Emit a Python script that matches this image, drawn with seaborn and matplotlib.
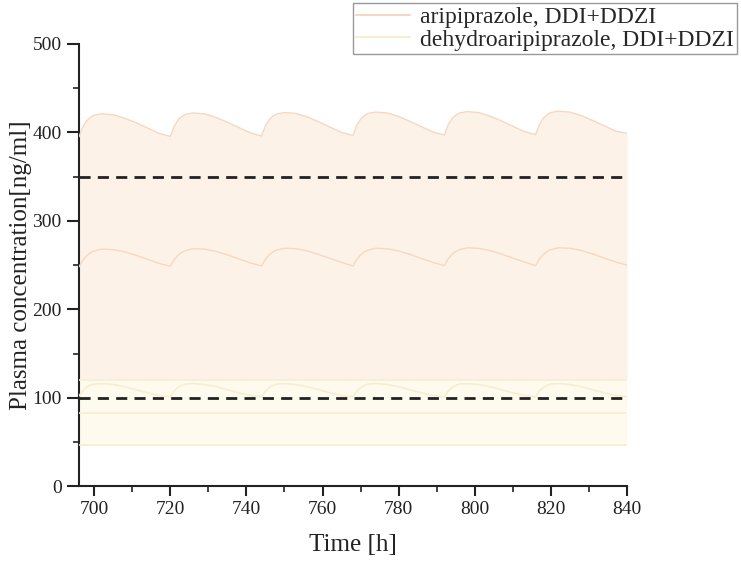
import numpy as np
import pandas as pd
import seaborn as sns
import matplotlib.pyplot as plt
from matplotlib.lines import Line2D
from matplotlib.ticker import MultipleLocator

# Time grid [h] (doses every 24 h, starting at 696 h)
time_h = [
    696, 697, 698, 699, 700, 702, 705, 708, 711, 714, 717,
    720, 721, 722, 723, 724, 726, 729, 732, 735, 738, 741,
    744, 745, 746, 747, 748, 750, 753, 756, 759, 762, 765,
    768, 769, 770, 771, 772, 774, 777, 780, 783, 786, 789,
    792, 793, 794, 795, 796, 798, 801, 804, 807, 810, 813,
    816, 817, 818, 819, 820, 822, 825, 828, 831, 834, 837,
    840,
]

# aripiprazole, upper bound of the band
ari_upper = [
    395, 406, 413, 417, 419.5, 421, 420, 416, 411, 405, 399,
    395.5, 407, 414, 418, 420.5, 422, 421, 417, 411.5, 405.5, 399.5,
    396, 407.5, 414.5, 418.5, 421, 422.5, 421.5, 417.5, 412, 406, 400,
    396.5, 408, 415, 419, 421.5, 423, 422, 418, 412.5, 406.5, 400.5,
    397, 408.5, 415.5, 419.5, 422, 423.5, 422.5, 418.5, 413, 407, 401,
    397.5, 409, 416, 420, 422.5, 424, 423, 419, 413.5, 407.5, 401.5,
    399,
]

# aripiprazole, median
ari_median = [
    248, 255.5, 260.5, 264, 266, 268, 267.5, 265, 261, 256.5, 252,
    248.5, 256, 261, 264.5, 266.5, 268.5, 268, 265.5, 261.5, 257, 252.5,
    249, 256.5, 261.5, 265, 267, 269, 268.5, 266, 262, 257.5, 253,
    249, 256.5, 261.5, 265, 267, 269, 268.5, 266, 262, 257.5, 253,
    249.5, 257, 262, 265.5, 267.5, 269.5, 269, 266.5, 262.5, 258, 253.5,
    249.5, 257, 262, 265.5, 267.5, 269.5, 269, 266.5, 262.5, 258, 253.5,
    250,
]

# dehydroaripiprazole, wavy line inside its band
dehy_wave = [
    102, 108, 112, 114.5, 115.5, 116, 115, 112.5, 109, 105.5, 102.5,
    101, 107.5, 111.5, 114, 115.5, 116, 115, 112.5, 109, 105.5, 102.5,
    101, 107.5, 111.5, 114, 115.5, 116, 115, 112.5, 109, 105.5, 102.5,
    101, 107.5, 111.5, 114, 115.5, 116, 115, 112.5, 109, 105.5, 102.5,
    101, 107.5, 111.5, 114, 115.5, 116, 115, 112.5, 109, 105.5, 102.5,
    101, 107.5, 111.5, 114, 115.5, 116, 115, 112.5, 109, 105.5, 102.5,
    101,
]

# flat levels
ari_lower = 120
dehy_upper = 120
dehy_median = 83
dehy_lower = 46
flat_t = [696, 840]

# therapeutic range limits
ref_levels = [350, 100]

labels = ['aripiprazole, DDI+DDZI', 'dehydroaripiprazole, DDI+DDZI']

ari_fill = '#fdf2e7'
ari_line = '#f5d8c2'
dehy_fill = '#fefbee'
dehy_line = '#f6eed2'

df = pd.DataFrame({'t': time_h, 'upper': ari_upper,
                   'median': ari_median, 'wave': dehy_wave})

sns.set_style('ticks')
plt.rcParams['font.family'] = ['Liberation Serif', 'DejaVu Serif']

fig = plt.figure(figsize=(7.41, 5.64), dpi=100)
ax = fig.add_axes([0.1066, 0.138, 0.7395, 0.784])

# bands
ax.fill_between(df['t'], ari_lower, df['upper'], color=ari_fill, lw=0, zorder=1)
ax.fill_between(flat_t, dehy_lower, dehy_upper, color=dehy_fill, lw=0, zorder=2)

# lines
sns.lineplot(data=df, x='t', y='upper', color=ari_line, lw=1, ax=ax, zorder=3)
sns.lineplot(data=df, x='t', y='median', color=ari_line, lw=1, ax=ax, zorder=3)
sns.lineplot(data=df, x='t', y='wave', color=dehy_line, lw=1.2, ax=ax, zorder=3)
for lvl in [dehy_upper, dehy_median, dehy_lower]:
    sns.lineplot(x=flat_t, y=[lvl, lvl], color=dehy_line, lw=1.2, ax=ax, zorder=3)

for lvl in ref_levels:
    ax.axhline(lvl, color='#222222', lw=2, dashes=(4, 2.6), zorder=4)

ax.set_xlim(696, 840)
ax.set_ylim(0, 500)
ax.xaxis.set_major_locator(MultipleLocator(20))
ax.xaxis.set_minor_locator(MultipleLocator(10))
ax.yaxis.set_major_locator(MultipleLocator(100))
ax.yaxis.set_minor_locator(MultipleLocator(50))
ax.tick_params(axis='both', which='major', length=7, width=1.5, labelsize=14,
               colors='#222222')
ax.tick_params(axis='both', which='minor', length=4, width=1.2, colors='#222222')
ax.tick_params(axis='y', which='major', length=9)

for s in ['top', 'right']:
    ax.spines[s].set_visible(False)
for s in ['left', 'bottom']:
    ax.spines[s].set_linewidth(1.5)
    ax.spines[s].set_color('#222222')

ax.set_xlabel('Time [h]', fontsize=18, color='#222222', labelpad=12)
ax.set_ylabel('Plasma concentration[ng/ml]', fontsize=18, color='#222222', labelpad=0)

handles = [Line2D([], [], color=ari_line, lw=1.5),
           Line2D([], [], color=dehy_line, lw=1.5)]
fig.legend(handles, labels, loc='upper right', bbox_to_anchor=(0.995, 0.995),
           fontsize=17, frameon=True, fancybox=False, framealpha=1,
           edgecolor='#999999', handlelength=2.3, handletextpad=0.4,
           labelspacing=0.05, borderpad=0.15, borderaxespad=0)

fig.savefig('out.png', dpi=100)
